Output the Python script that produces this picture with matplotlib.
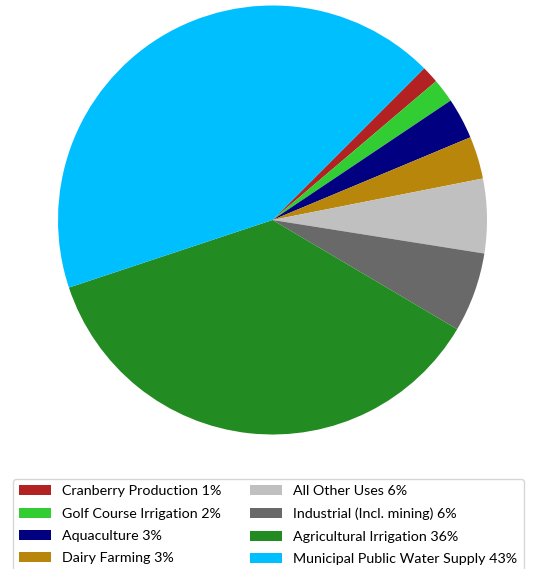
import matplotlib
matplotlib.use('Agg')
import matplotlib.pyplot as plt

plt.rcParams['font.family'] = 'Lato'

# water use shares (percent)
uses = ['Cranberry Production', 'Golf Course Irrigation', 'Aquaculture',
        'Dairy Farming', 'All Other Uses', 'Industrial (Incl. mining)',
        'Agricultural Irrigation', 'Municipal Public Water Supply']
shares = [1.3, 1.8, 3.1, 3.2, 5.6, 6.0, 36.4, 42.6]
colors = ['#B22222', '#32CD32', '#000080', '#B8860B',
          '#C0C0C0', '#696969', '#228B22', '#00BFFF']

labels = [f'{u} {s:.0f}%' for u, s in zip(uses, shares)]

fig = plt.figure(figsize=(5.42, 5.69), dpi=100)
ax = fig.add_axes([58 / 542, 1 - 434.5 / 569, 429 / 542, 429 / 569])
wedges, _ = ax.pie(shares, colors=colors, startangle=45, counterclock=False,
                   radius=1, wedgeprops=dict(linewidth=0))
ax.set_xlim(-1, 1)
ax.set_ylim(-1, 1)
ax.set_aspect('equal')

leg = fig.legend(wedges, labels, ncol=2, loc='upper left',
                 bbox_to_anchor=(13 / 542, 1 - 479 / 569), borderaxespad=0,
                 fontsize=10.3, frameon=True, fancybox=True,
                 handlelength=2.2, handleheight=0.7, handletextpad=0.8,
                 columnspacing=2.0, labelspacing=0.72, borderpad=0.45)
leg.get_frame().set_edgecolor('#cccccc')
leg.get_frame().set_linewidth(1.0)

fig.savefig('out.png', dpi=100)
